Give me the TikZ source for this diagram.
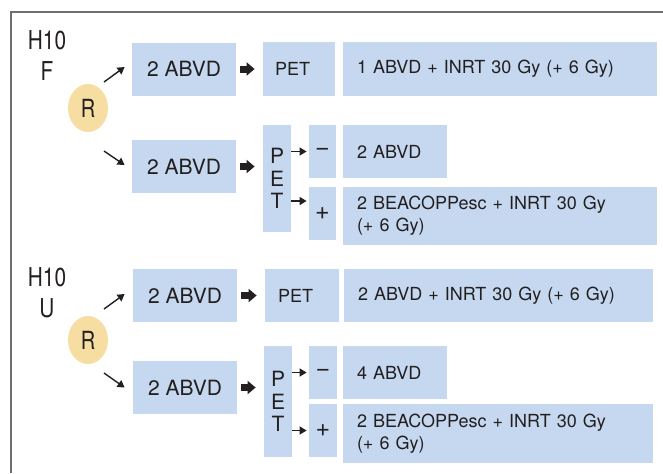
\documentclass[tikz,border=0pt]{standalone}
\usepackage{fontspec}
\setmainfont{TeX Gyre Heros}
\usetikzlibrary{arrows.meta}
\usetikzlibrary{shapes}
\definecolor{petblue}{RGB}{197,216,239}
\definecolor{randyellow}{RGB}{246,222,162}
\definecolor{ink}{RGB}{35,31,32}
\definecolor{framegray}{RGB}{110,110,110}
\newcommand{\narrowtext}[1]{\scalebox{0.8}[1]{#1}}
\tikzstyle{cell}=[fill=petblue,inner sep=0mm,minimum height=26.5pt,text=ink,font=\fontsize{10.5}{12}\selectfont]
\tikzstyle{sign}=[cell,font=\fontsize{12.5}{14}\selectfont]
\tikzstyle{regimen}=[cell,inner xsep=7pt,align=left,font=\fontsize{9}{11}\selectfont]
\tikzstyle{petbar}=[cell,minimum width=14pt,align=center,font=\fontsize{10.5}{11.25}\selectfont]
\tikzstyle{rand}=[ellipse,fill=randyellow,minimum width=20pt,minimum height=24pt,inner sep=0mm,text=ink,font=\fontsize{12.5}{14}\selectfont]
\tikzstyle{arm}=[text=ink,align=center,inner sep=0mm,font=\fontsize{13}{15.5}\selectfont]
\tikzstyle{pointer}=[-{Triangle[length=3.5pt,width=4pt]},line width=0.7pt,draw=ink]
\tikzstyle{fat}=[-{Triangle[length=4pt,width=6.5pt]},line width=3.5pt,draw=ink,shorten <=2pt,shorten >=4pt]

\begin{document}
\begin{tikzpicture}[x=0.5pt,y=-0.5pt]
      \useasboundingbox (0,0) rectangle (663,473);
      \draw[framegray,line width=1pt] (11,473) -- (11,12) -- (663,12);
      % H10 F
      \node[arm] at (47,56) (armF) {\narrowtext{H10}\\\narrowtext{F}};
      \node[rand] at (88,108) (rF) {\narrowtext{R}};
      \node[cell,minimum width=52pt] at (184,69) (abvdFa) {2 ABVD};
      \node[regimen,text width=24pt,minimum height=27pt,inner xsep=6pt] at (299,69) (petFa) {PET};
      \node[regimen,text width=143pt,minimum height=27pt] at (500,69) (regFa) {1 ABVD + INRT 30 Gy (+ 6 Gy)};
      \node[cell,minimum width=52pt] at (184,166.5) (abvdFb) {2 ABVD};
      \node[petbar,minimum height=53.5pt] at (277,178.5) (petFb) {P\\E\\T};
      \node[sign,minimum width=13.5pt] at (322.5,151.5) (negF) {\char"2212};
      \node[sign,minimum width=13.5pt] at (322.5,213.5) (posF) {+};
      \node[regimen,text width=38pt] at (395,151.5) (abvdFc) {2 ABVD};
      \node[regimen,text width=143pt,minimum height=29pt] at (500,216) (beaF) {2 BEACOPPesc + INRT 30 Gy\\(+ 6 Gy)};
      \draw[pointer] ([shift={(16,-26)}]rF.center) -- ([shift={(-7,-2)}]abvdFa.west);
      \draw[pointer] ([shift={(16,43)}]rF.center) -- ([shift={(-7,-1.5)}]abvdFb.west);
      \draw[fat] (abvdFa) -- (petFa);
      \draw[fat] (abvdFb.east) -- (abvdFb.east -| petFb.west);
      \draw[pointer,shorten >=1pt] (petFb.east |- negF) -- (negF);
      \draw[pointer,shorten >=1pt] ([shift={(0,22.5)}]petFb.east) coordinate (tF) -- (tF -| posF.west);
      % H10 U
      \node[arm] at (47,293) (armU) {\narrowtext{H10}\\\narrowtext{U}};
      \node[rand] at (88,340) (rU) {\narrowtext{R}};
      \node[cell,minimum width=52pt] at (185,295.5) (abvdUa) {2 ABVD};
      \node[regimen,text width=24pt,inner xsep=6.5pt] at (302,295.5) (petUa) {PET};
      \node[regimen,text width=140.5pt] at (498.5,295.5) (regUa) {2 ABVD + INRT 30 Gy (+ 6 Gy)};
      \node[cell,minimum width=52pt] at (185,387.5) (abvdUb) {2 ABVD};
      \node[petbar,minimum height=55.5pt] at (278,401.5) (petUb) {P\\E\\T};
      \node[sign,minimum width=14pt] at (323,372.5) (negU) {\char"2212};
      \node[sign,minimum width=14pt] at (323,430.5) (posU) {+};
      \node[regimen,text width=38pt] at (395,372.5) (abvdUc) {4 ABVD};
      \node[regimen,text width=141pt,minimum height=29.5pt] at (498,433.5) (beaU) {2 BEACOPPesc + INRT 30 Gy\\(+ 6 Gy)};
      \draw[pointer] ([shift={(16,-31)}]rU.center) -- ([shift={(-8,-1.5)}]abvdUa.west);
      \draw[pointer] ([shift={(16,33)}]rU.center) -- ([shift={(-8,0)}]abvdUb.west);
      \draw[fat] (abvdUa) -- (petUa);
      \draw[fat] (abvdUb.east) -- (abvdUb.east -| petUb.west);
      \draw[pointer,shorten >=1pt] (petUb.east |- negU) -- (negU);
      \draw[pointer,shorten >=1pt] (petUb.east |- posU) -- (posU);
    \end{tikzpicture}
\end{document}
